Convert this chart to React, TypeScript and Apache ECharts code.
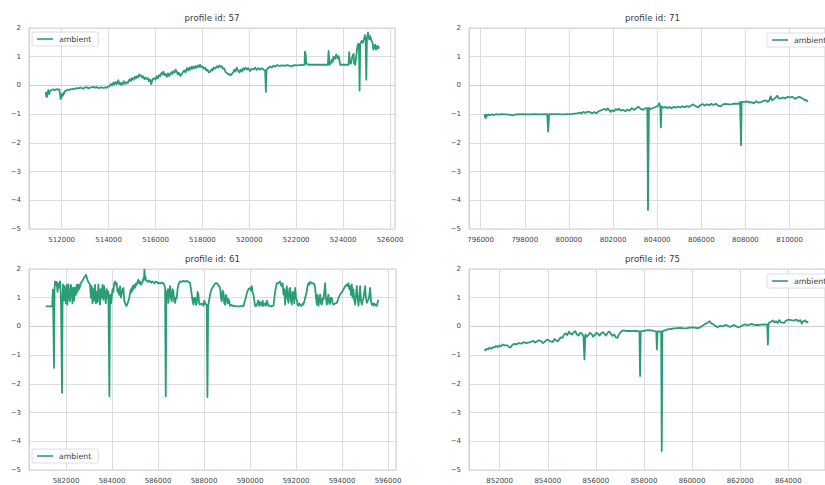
import React, { useEffect, useRef } from "react";
import * as echarts from "echarts";

const titles = ["profile id: 57", "profile id: 71", "profile id: 61", "profile id: 75"];
const seriesName = "ambient";
const yMin = -5;
const yMax = 2;
const xLimits = [
  [510606, 526213],
  [795473, 811605],
  [580390, 596348],
  [850726, 865524],
];

type Pt = [number, number];

const profile57: Pt[] = [[511317,-0.22],[511340,-0.38],[511360,-0.30],[511380,-0.40],[511400,-0.25],[511431,-0.16],[511450,-0.28],[511470,-0.30],[511502,-0.20],[511530,-0.18],[511560,-0.16],[511600,-0.15],[511644,-0.14],[511720,-0.16],[511787,-0.13],[511850,-0.15],[511900,-0.14],[511930,-0.30],[511957,-0.48],[511975,-0.32],[511990,-0.42],[512014,-0.30],[512050,-0.36],[512080,-0.25],[512110,-0.28],[512142,-0.20],[512200,-0.18],[512250,-0.15],[512300,-0.17],[512356,-0.13],[512420,-0.14],[512500,-0.11],[512570,-0.12],[512650,-0.09],[512720,-0.11],[512782,-0.07],[512840,-0.09],[512900,-0.11],[512980,-0.08],[513067,-0.06],[513140,-0.10],[513200,-0.08],[513280,-0.07],[513351,-0.05],[513420,-0.08],[513500,-0.06],[513570,-0.09],[513636,-0.08],[513700,-0.07],[513780,-0.09],[513850,-0.07],[513920,-0.08],[513990,-0.04],[514050,-0.02],[514100,0.05],[514150,0.00],[514205,0.10],[514250,0.03],[514300,0.12],[514350,0.05],[514418,0.18],[514450,0.05],[514490,0.09],[514530,0.02],[514560,0.08],[514600,0.04],[514650,0.15],[514700,0.05],[514774,0.12],[514820,0.08],[514900,0.22],[514950,0.15],[515000,0.26],[515058,0.20],[515120,0.30],[515160,0.24],[515200,0.32],[515260,0.28],[515300,0.38],[515343,0.33],[515400,0.35],[515440,0.27],[515480,0.31],[515530,0.22],[515580,0.28],[515627,0.22],[515680,0.25],[515720,0.15],[515780,0.20],[515810,0.05],[515841,0.10],[515880,0.22],[515950,0.25],[516000,0.20],[516054,0.32],[516100,0.25],[516150,0.36],[516200,0.32],[516260,0.44],[516300,0.40],[516339,0.48],[516380,0.36],[516430,0.40],[516480,0.30],[516540,0.42],[516580,0.33],[516623,0.38],[516680,0.46],[516720,0.40],[516760,0.50],[516820,0.45],[516860,0.55],[516908,0.48],[516950,0.38],[517000,0.44],[517060,0.33],[517121,0.40],[517180,0.48],[517230,0.52],[517280,0.45],[517334,0.60],[517400,0.52],[517440,0.62],[517480,0.55],[517540,0.65],[517580,0.58],[517619,0.66],[517680,0.60],[517720,0.68],[517760,0.62],[517820,0.70],[517860,0.64],[517903,0.72],[517950,0.64],[518000,0.66],[518060,0.58],[518117,0.62],[518170,0.52],[518220,0.55],[518270,0.45],[518330,0.48],[518380,0.56],[518430,0.52],[518470,0.62],[518540,0.58],[518615,0.67],[518670,0.62],[518720,0.70],[518780,0.64],[518828,0.67],[518880,0.58],[518940,0.58],[518990,0.46],[519041,0.44],[519100,0.38],[519150,0.40],[519200,0.35],[519255,0.40],[519310,0.45],[519360,0.55],[519410,0.48],[519468,0.62],[519520,0.52],[519580,0.45],[519630,0.55],[519682,0.48],[519740,0.60],[519790,0.55],[519840,0.62],[519895,0.55],[519950,0.60],[520030,0.50],[520100,0.58],[520179,0.56],[520250,0.62],[520320,0.54],[520390,0.60],[520464,0.55],[520530,0.60],[520600,0.56],[520677,0.50],[520706,-0.22],[520734,0.55],[520800,0.60],[520891,0.66],[520960,0.62],[521040,0.69],[521110,0.66],[521175,0.71],[521290,0.68],[521400,0.70],[521500,0.68],[521602,0.71],[521700,0.69],[521815,0.66],[521900,0.71],[522000,0.70],[522171,0.71],[522356,0.72],[522370,1.18],[522384,0.85],[522400,1.12],[522427,0.76],[522527,0.72],[522882,0.72],[523352,0.72],[523380,1.20],[523423,0.72],[523480,0.78],[523520,0.90],[523560,0.82],[523593,1.00],[523650,0.92],[523707,1.08],[523760,0.95],[523807,1.02],[523850,0.85],[523878,0.72],[524234,0.72],[524260,1.16],[524290,0.80],[524333,0.76],[524400,1.02],[524447,1.10],[524470,0.76],[524518,0.72],[524560,1.00],[524589,1.22],[524620,1.40],[524660,1.45],[524680,1.20],[524703,-0.18],[524730,1.45],[524760,1.50],[524800,1.55],[524840,1.48],[524874,1.58],[524900,1.65],[524931,1.75],[524960,1.60],[524988,0.20],[525016,1.62],[525040,1.70],[525059,1.85],[525090,1.70],[525116,1.60],[525150,1.72],[525187,1.62],[525220,1.55],[525258,1.48],[525280,1.30],[525301,1.25],[525340,1.35],[525372,1.42],[525400,1.28],[525415,1.25],[525440,1.30],[525471,1.38],[525510,1.30],[525542,1.35]];

const profile71: Pt[] = [[796176,-1.0],[796200,-1.10],[796234,-1.14],[796260,-1.02],[796293,-1.06],[796350,-1.01],[796410,-1.04],[796500,-1.01],[796600,-1.03],[796703,-1.00],[796800,-1.02],[796950,-1.00],[797142,-1.01],[797300,-1.02],[797435,-1.04],[797600,-1.01],[797874,-1.00],[798100,-1.01],[798460,-1.00],[798700,-1.01],[799016,-1.00],[799060,-1.61],[799104,-1.00],[799484,-1.00],[799700,-1.01],[799924,-1.00],[800150,-0.99],[800363,-0.97],[800500,-0.95],[800580,-0.97],[800656,-0.92],[800750,-0.96],[800850,-0.91],[800948,-0.93],[801050,-0.97],[801150,-0.93],[801241,-0.97],[801350,-0.90],[801450,-0.87],[801534,-0.84],[801620,-0.82],[801700,-0.86],[801754,-0.80],[801830,-0.86],[801900,-0.92],[801973,-0.86],[802050,-0.90],[802130,-0.82],[802200,-0.86],[802266,-0.81],[802350,-0.88],[802450,-0.85],[802559,-0.90],[802650,-0.84],[802750,-0.88],[802852,-0.79],[802950,-0.85],[803050,-0.80],[803144,-0.74],[803250,-0.82],[803364,-0.85],[803450,-0.80],[803554,-0.79],[803584,-4.34],[803627,-0.78],[803700,-0.82],[803803,-0.79],[803900,-0.76],[804022,-0.72],[804060,-0.68],[804096,-0.62],[804120,-0.70],[804140,-0.74],[804169,-1.46],[804198,-0.73],[804300,-0.78],[804380,-0.74],[804462,-0.79],[804560,-0.75],[804650,-0.80],[804755,-0.74],[804850,-0.78],[804950,-0.74],[805048,-0.77],[805150,-0.73],[805250,-0.76],[805340,-0.72],[805450,-0.75],[805540,-0.70],[805633,-0.66],[805740,-0.72],[805853,-0.76],[805950,-0.69],[806072,-0.65],[806150,-0.70],[806250,-0.66],[806365,-0.69],[806450,-0.64],[806550,-0.68],[806658,-0.64],[806760,-0.70],[806878,-0.73],[806980,-0.66],[807097,-0.64],[807250,-0.66],[807390,-0.65],[807500,-0.63],[807683,-0.64],[807756,-0.58],[807800,-2.08],[807829,-0.57],[807950,-0.57],[808122,-0.56],[808200,-0.60],[808268,-0.58],[808380,-0.62],[808488,-0.55],[808600,-0.60],[808708,-0.58],[808800,-0.54],[808927,-0.52],[809000,-0.57],[809074,-0.53],[809110,-0.44],[809147,-0.38],[809180,-0.48],[809220,-0.52],[809300,-0.47],[809380,-0.42],[809440,-0.36],[809500,-0.44],[809586,-0.46],[809700,-0.42],[809806,-0.45],[809900,-0.40],[810025,-0.42],[810120,-0.39],[810245,-0.47],[810350,-0.42],[810464,-0.40],[810540,-0.44],[810611,-0.46],[810684,-0.51],[810750,-0.50],[810830,-0.57]];

const profile61: Pt[] = [[581115,0.70],[581250,0.70],[581400,0.70],[581430,1.28],[581478,-1.44],[581500,1.30],[581522,1.57],[581560,1.45],[581594,1.55],[581630,1.20],[581667,1.50],[581700,1.35],[581739,1.57],[581760,1.30],[581783,0.76],[581826,-2.31],[581850,1.00],[581870,1.46],[581900,0.90],[581930,1.40],[581957,1.22],[581990,0.80],[582029,1.45],[582060,0.76],[582102,1.46],[582140,1.00],[582174,0.88],[582210,1.45],[582247,1.30],[582280,0.80],[582319,1.35],[582350,0.90],[582392,1.34],[582430,1.10],[582464,1.45],[582500,1.20],[582537,1.46],[582570,1.30],[582609,1.40],[582640,1.50],[582682,1.55],[582720,1.60],[582754,1.65],[582790,1.70],[582827,1.75],[582870,1.80],[582899,1.72],[582940,1.60],[582972,1.55],[583010,1.50],[583044,1.45],[583080,1.00],[583117,1.40],[583150,0.80],[583189,1.30],[583220,0.90],[583262,1.45],[583300,0.80],[583334,1.20],[583370,0.85],[583407,1.46],[583440,1.10],[583479,0.76],[583510,1.30],[583552,1.00],[583590,1.45],[583624,0.93],[583660,1.40],[583697,1.10],[583730,0.80],[583769,1.30],[583810,1.00],[583842,1.22],[583885,-2.43],[583910,1.00],[583929,1.11],[583960,0.80],[583987,1.00],[584020,1.30],[584059,1.20],[584095,1.50],[584132,1.57],[584170,1.45],[584204,1.51],[584240,1.20],[584277,1.30],[584310,1.10],[584349,1.40],[584390,1.00],[584422,1.15],[584460,1.30],[584494,1.34],[584530,0.90],[584567,0.82],[584600,0.75],[584639,0.72],[584675,0.80],[584712,0.88],[584750,1.00],[584784,1.15],[584820,1.30],[584857,1.20],[584890,1.40],[584929,1.30],[584970,1.45],[585010,1.35],[585040,1.50],[585074,1.45],[585110,1.55],[585147,1.63],[585180,1.50],[585219,1.57],[585255,1.45],[585292,1.50],[585330,1.55],[585364,1.69],[585390,1.62],[585408,1.98],[585430,1.70],[585451,1.74],[585480,1.60],[585509,1.59],[585560,1.55],[585600,1.60],[585654,1.57],[585700,1.52],[585750,1.57],[585799,1.54],[585850,1.50],[585900,1.56],[585944,1.55],[586000,1.50],[586050,1.52],[586089,1.49],[586150,1.53],[586200,1.50],[586234,1.51],[586270,1.45],[586307,1.34],[586336,-2.43],[586365,1.22],[586400,1.00],[586430,1.30],[586452,0.82],[586490,1.20],[586524,1.40],[586560,1.00],[586597,0.88],[586630,1.30],[586669,1.22],[586700,0.90],[586742,0.82],[586780,1.00],[586814,0.99],[586850,1.30],[586887,1.46],[586920,1.50],[586959,1.57],[587030,1.55],[587104,1.59],[587180,1.56],[587249,1.59],[587320,1.55],[587394,1.51],[587430,1.30],[587467,1.11],[587500,0.90],[587539,0.76],[587575,1.00],[587612,0.99],[587650,0.75],[587684,0.82],[587720,1.20],[587757,1.11],[587790,0.80],[587829,0.76],[587900,0.80],[587974,0.72],[588010,0.90],[588047,0.82],[588080,0.76],[588119,0.76],[588148,-2.46],[588177,0.70],[588220,0.90],[588264,1.11],[588330,1.30],[588409,1.40],[588480,1.50],[588554,1.51],[588620,1.45],[588699,1.34],[588735,1.00],[588772,0.88],[588810,1.25],[588844,1.17],[588880,0.80],[588917,0.76],[588950,1.10],[588989,0.99],[589030,0.80],[589070,0.95],[589134,0.72],[589200,0.75],[589279,0.70],[589350,0.72],[589424,0.70],[589500,0.70],[589569,0.70],[589640,0.72],[589714,0.70],[589780,0.90],[589820,1.00],[589859,1.15],[589930,1.30],[590004,1.34],[590040,1.25],[590077,1.40],[590110,1.20],[590149,1.11],[590185,0.90],[590222,0.72],[590260,0.70],[590294,0.75],[590360,0.90],[590400,0.72],[590439,0.85],[590510,0.72],[590550,0.90],[590584,0.72],[590650,0.80],[590690,0.72],[590729,0.90],[590800,0.72],[590874,0.72],[590940,0.70],[591019,0.72],[591090,1.20],[591164,1.51],[591230,1.50],[591309,1.57],[591345,1.45],[591382,1.40],[591420,1.50],[591454,1.11],[591490,1.30],[591527,0.76],[591560,1.10],[591599,1.40],[591635,1.00],[591672,0.82],[591710,1.30],[591744,1.34],[591780,0.90],[591817,0.76],[591850,1.20],[591889,1.17],[591925,0.80],[591962,1.34],[592000,1.00],[592034,0.93],[592070,0.75],[592107,0.72],[592140,0.80],[592179,0.76],[592215,0.72],[592252,0.72],[592290,0.80],[592324,0.76],[592400,1.00],[592469,1.22],[592500,1.40],[592542,1.51],[592580,1.45],[592614,1.55],[592690,1.50],[592759,1.51],[592800,1.45],[592832,1.34],[592870,1.00],[592904,0.76],[592940,1.10],[592977,0.72],[593010,0.90],[593049,1.11],[593085,0.80],[593122,0.76],[593160,1.00],[593194,0.93],[593230,1.20],[593267,1.51],[593300,1.00],[593339,0.76],[593375,0.95],[593412,1.11],[593450,0.78],[593484,0.82],[593520,1.00],[593557,0.99],[593590,0.80],[593629,0.76],[593700,0.80],[593774,0.82],[593850,1.00],[593919,1.11],[594000,1.20],[594064,1.29],[594140,1.40],[594209,1.46],[594245,1.40],[594282,1.51],[594320,1.30],[594354,1.40],[594390,1.10],[594427,1.46],[594460,1.00],[594499,1.29],[594535,0.90],[594572,0.76],[594610,1.10],[594644,1.40],[594680,1.00],[594717,0.72],[594750,1.00],[594789,1.40],[594825,0.90],[594862,0.76],[594900,0.90],[594934,0.99],[594970,1.20],[595007,1.40],[595040,1.00],[595079,0.82],[595115,0.90],[595152,0.93],[595190,1.10],[595224,1.34],[595260,0.90],[595297,0.76],[595330,0.80],[595369,0.72],[595400,0.80],[595442,0.76],[595480,0.72],[595514,0.72],[595550,0.85],[595587,0.93]];

const profile75: Pt[] = [[851368,-0.80],[851400,-0.84],[851449,-0.78],[851520,-0.80],[851583,-0.74],[851650,-0.78],[851718,-0.72],[851780,-0.74],[851852,-0.68],[851920,-0.72],[851987,-0.66],[852050,-0.70],[852121,-0.63],[852220,-0.66],[852323,-0.66],[852400,-0.72],[852457,-0.73],[852530,-0.64],[852592,-0.61],[852700,-0.62],[852794,-0.58],[852900,-0.60],[852995,-0.55],[853100,-0.58],[853197,-0.56],[853300,-0.54],[853399,-0.50],[853470,-0.56],[853533,-0.53],[853630,-0.48],[853735,-0.52],[853800,-0.58],[853870,-0.54],[853940,-0.48],[854004,-0.46],[854100,-0.52],[854206,-0.54],[854280,-0.44],[854340,-0.48],[854410,-0.52],[854475,-0.45],[854540,-0.38],[854609,-0.40],[854680,-0.28],[854744,-0.24],[854810,-0.30],[854878,-0.18],[854940,-0.25],[855013,-0.28],[855080,-0.20],[855147,-0.17],[855210,-0.28],[855282,-0.32],[855350,-0.22],[855416,-0.25],[855484,-0.34],[855524,-1.15],[855564,-0.28],[855620,-0.36],[855685,-0.30],[855750,-0.22],[855820,-0.26],[855890,-0.36],[855954,-0.30],[856020,-0.22],[856089,-0.26],[856150,-0.32],[856223,-0.24],[856290,-0.20],[856358,-0.26],[856420,-0.32],[856492,-0.22],[856560,-0.18],[856627,-0.26],[856690,-0.33],[856761,-0.28],[856830,-0.38],[856896,-0.40],[856960,-0.28],[857030,-0.20],[857100,-0.15],[857165,-0.14],[857260,-0.16],[857367,-0.15],[857500,-0.16],[857636,-0.15],[857810,-0.17],[857837,-1.73],[857864,-0.17],[858039,-0.15],[858180,-0.13],[858308,-0.14],[858420,-0.16],[858510,-0.17],[858537,-0.80],[858564,-0.17],[858650,-0.18],[858712,-0.17],[858738,-4.34],[858765,-0.17],[858870,-0.14],[858981,-0.10],[859100,-0.09],[859250,-0.07],[859380,-0.06],[859519,-0.05],[859650,-0.07],[859788,-0.06],[859920,-0.04],[860057,-0.03],[860200,-0.06],[860326,-0.04],[860430,0.02],[860527,0.08],[860620,0.12],[860729,0.18],[860800,0.10],[860864,0.09],[860960,0.02],[861065,-0.03],[861160,0.02],[861267,0.00],[861370,0.05],[861469,0.03],[861570,-0.02],[861671,0.02],[861740,0.05],[861805,0.02],[861900,-0.03],[862007,-0.01],[862100,0.04],[862209,0.07],[862330,0.04],[862478,0.09],[862600,0.05],[862747,0.05],[862880,0.06],[863016,0.07],[863123,0.06],[863150,-0.63],[863177,0.12],[863260,0.15],[863352,0.21],[863420,0.14],[863486,0.18],[863560,0.12],[863621,0.22],[863700,0.14],[863823,0.12],[863900,0.20],[864024,0.24],[864120,0.22],[864226,0.20],[864330,0.24],[864428,0.18],[864500,0.22],[864562,0.10],[864620,0.18],[864697,0.21],[864760,0.14],[864831,0.17]];

const profiles = [profile57, profile71, profile61, profile75];

const LINE_COLOR = "#2a9d74";
const FONT = "DejaVu Sans";
const grids = [
  { left: 29, top: 28, width: 366, height: 201 },
  { left: 469, top: 28, width: 367, height: 201 },
  { left: 29, top: 269, width: 367, height: 201 },
  { left: 469, top: 269, width: 367, height: 201 },
];
const legendPos = [
  { left: 32, top: 32 },
  { left: 767, top: 33 },
  { left: 32, top: 449 },
  { left: 767, top: 274 },
];

export default function App() {
  const ref = useRef<HTMLDivElement>(null);
  useEffect(() => {
    if (!ref.current) return;
    const chart = echarts.init(ref.current, undefined, { renderer: "svg" });
    const option: any = {
      animation: false,
      backgroundColor: "#ffffff",
      textStyle: { fontFamily: FONT },
      title: grids.map((g, i) => ({
        text: titles[i],
        left: g.left + g.width / 2,
        top: g.top - 15,
        textAlign: "center",
        padding: 0,
        textStyle: { fontSize: 8.7, fontWeight: "normal", color: "#3a3a3a", fontFamily: FONT },
      })),
      legend: legendPos.map((p) => ({
        left: p.left,
        top: p.top,
        data: [seriesName],
        icon: "rect",
        itemWidth: 16,
        itemHeight: 1.6,
        backgroundColor: "#ffffff",
        borderColor: "#d6d6d6",
        borderWidth: 0.8,
        borderRadius: 2,
        padding: [3, 7, 3, 5],
        selectedMode: false,
        textStyle: { fontSize: 7.8, color: "#3a3a3a", fontFamily: FONT, padding: [0, 0, 0, 1] },
      })),
      grid: grids.map((g) => ({
        ...g,
        show: true,
        borderColor: "#d0d0d0",
        borderWidth: 1,
        backgroundColor: "#ffffff",
        containLabel: false,
      })),
      xAxis: grids.map((_, i) => ({
        type: "value",
        gridIndex: i,
        min: xLimits[i][0],
        max: xLimits[i][1],
        splitNumber: 7,
        axisLine: { show: true, lineStyle: { color: "#d0d0d0" } },
        axisTick: { show: false },
        axisLabel: {
          fontSize: 7,
          color: "#444",
          margin: 7,
          showMinLabel: false,
          showMaxLabel: false,
          fontFamily: FONT,
          formatter: (v: number) => String(v),
        },
        splitLine: { show: true, lineStyle: { color: "#dddddd", width: 1 } },
      })),
      yAxis: grids.map((_, i) => ({
        type: "value",
        gridIndex: i,
        min: yMin,
        max: yMax,
        interval: 1,
        axisLine: { show: true, lineStyle: { color: "#d0d0d0" } },
        axisTick: { show: false },
        axisLabel: {
          fontSize: 7,
          color: "#444",
          margin: 8,
          fontFamily: FONT,
          formatter: (v: number) => String(v).replace("-", "\u2212"),
        },
        splitLine: { show: true, lineStyle: { color: "#dddddd", width: 1 } },
      })),
      series: profiles.map((pts, i) => ({
        type: "line",
        name: seriesName,
        xAxisIndex: i,
        yAxisIndex: i,
        data: pts,
        showSymbol: false,
        symbol: "none",
        lineStyle: { color: LINE_COLOR, width: 1.8, join: "round" },
        itemStyle: { color: LINE_COLOR },
        clip: true,
      })),
    };
    chart.setOption(option);
    return () => chart.dispose();
  }, []);
  return (
    <div
      ref={ref}
      style={{ position: "fixed", left: 0, top: 0, width: 825, height: 485, background: "#fff" }}
    />
  );
}
